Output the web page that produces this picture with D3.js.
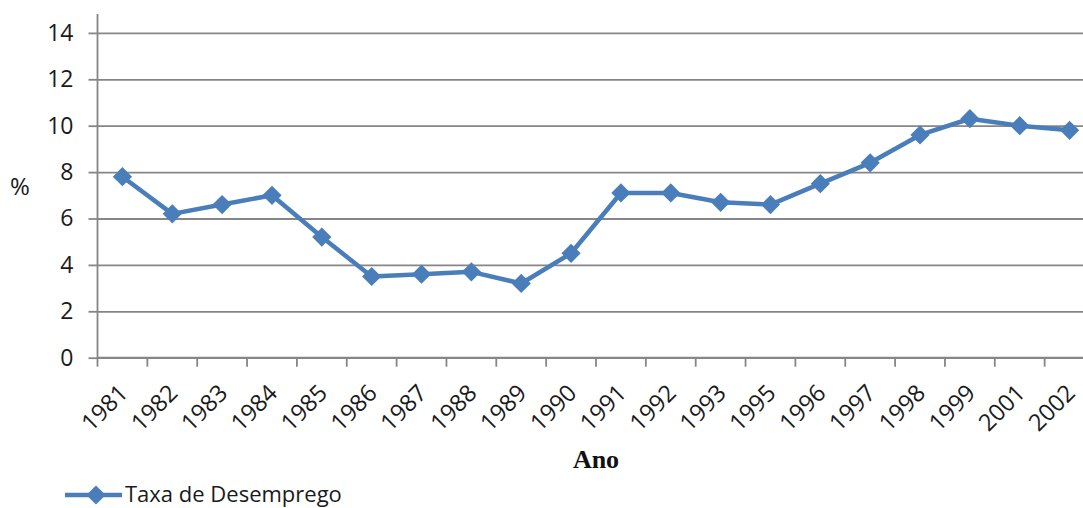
<!DOCTYPE html>
<html>
<head>
<meta charset="utf-8">
<script src="https://cdn.jsdelivr.net/npm/d3@7"></script>
<style>
  html, body { margin: 0; padding: 0; background: #fff; }
  svg { display: block; }
</style>
</head>
<body>
<svg id="chart" width="1083" height="508"></svg>
<script>
// Taxa de desemprego anual (%)
const anos = ["1981","1982","1983","1984","1985","1986","1987","1988","1989","1990",
              "1991","1992","1993","1995","1996","1997","1998","1999","2001","2002"];
const taxa = [7.8, 6.2, 6.6, 7.0, 5.2, 3.5, 3.6, 3.7, 3.2, 4.5,
              7.1, 7.1, 6.7, 6.6, 7.5, 8.4, 9.6, 10.3, 10.0, 9.8];
const yTicks = [0, 2, 4, 6, 8, 10, 12, 14];
const nomeSerie = "Taxa de Desemprego";
const tituloX = "Ano";
const tituloY = "%";

const svg = d3.select("#chart");
const font = "'Open Sans', sans-serif";
const gray = "#868686";
const blue = "#4a7ebb";
const ink = "#1a1a1a";

const plotLeft = 97.5, plotTop = 14, plotBottom = 357.7;
const x = d3.scaleBand().domain(anos).range([plotLeft, plotLeft + 20 * 49.85]);
const y = d3.scaleLinear().domain([0, 14]).range([plotBottom, 32.9]);

// horizontal gridlines + y axis
const yAxis = d3.axisLeft(y).tickValues(yTicks).tickSize(9).tickPadding(15).tickFormat(d3.format("d"));
const gy = svg.append("g").attr("transform", `translate(${plotLeft},0)`).call(yAxis);
gy.select(".domain").remove();
gy.selectAll(".tick line").attr("stroke", gray).attr("stroke-width", 1.8);
gy.selectAll(".tick text").attr("font-family", font).attr("font-size", 23).attr("fill", ink);
gy.selectAll(".tick").append("line")
  .attr("x1", 0).attr("x2", 1083 - plotLeft)
  .attr("stroke", gray).attr("stroke-width", 1.8);

// vertical axis line
svg.append("line").attr("x1", plotLeft).attr("x2", plotLeft).attr("y1", plotTop).attr("y2", plotBottom)
  .attr("stroke", gray).attr("stroke-width", 1.8);

// x axis with ticks at category boundaries
const gx = svg.append("g").attr("transform", `translate(0,${plotBottom})`);
gx.append("line").attr("x1", plotLeft).attr("x2", 1083).attr("stroke", gray).attr("stroke-width", 1.8);
gx.selectAll("line.tk").data(anos).join("line").attr("class", "tk")
  .attr("x1", d => x(d)).attr("x2", d => x(d)).attr("y1", 0).attr("y2", 9)
  .attr("stroke", gray).attr("stroke-width", 1.8);
gx.selectAll("text").data(anos).join("text")
  .attr("transform", d => `translate(${x(d) + x.bandwidth() / 2 + 1},${31}) rotate(-45)`)
  .attr("text-anchor", "end").attr("dy", "0.35em")
  .attr("font-family", font).attr("font-size", 23.5).attr("fill", ink)
  .text(d => d);

// axis titles
svg.append("text").attr("x", 20).attr("y", 187).attr("dy", "0.35em")
  .attr("text-anchor", "middle").attr("font-family", font).attr("font-size", 24)
  .attr("fill", ink).text(tituloY);
svg.append("text").attr("x", 596).attr("y", 468)
  .attr("text-anchor", "middle").attr("font-family", "'Liberation Serif', serif")
  .attr("font-weight", "bold").attr("font-size", 26).attr("fill", "#111").text(tituloX);

// series line
const cx = d => x(d) + x.bandwidth() / 2;
const line = d3.line().x((d, i) => cx(anos[i])).y(d => y(d));
svg.append("path").datum(taxa).attr("d", line)
  .attr("fill", "none").attr("stroke", blue).attr("stroke-width", 4.5)
  .attr("stroke-linejoin", "round");

const diamond = d3.symbol().type(d3.symbolSquare).size(185);
svg.append("g").selectAll("path").data(taxa).join("path")
  .attr("d", diamond)
  .attr("transform", (d, i) => `translate(${cx(anos[i])},${y(d)}) rotate(45)`)
  .attr("fill", blue);

// legend
const lg = svg.append("g").attr("transform", "translate(0,495)");
lg.append("line").attr("x1", 65).attr("x2", 122).attr("stroke", blue).attr("stroke-width", 4.5);
lg.append("path").attr("d", diamond).attr("transform", "translate(96,0) rotate(45)").attr("fill", blue);
lg.append("text").attr("x", 125).attr("y", 7).attr("font-family", font).attr("font-size", 22)
  .attr("fill", ink).text(nomeSerie);
</script>
</body>
</html>
